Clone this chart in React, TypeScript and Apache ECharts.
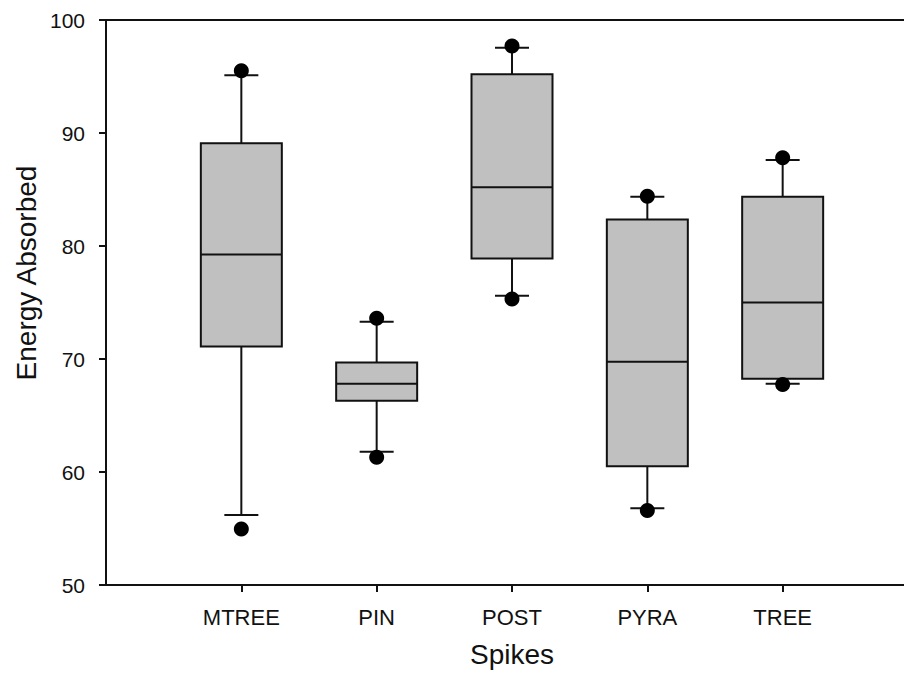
import React, { useEffect, useRef } from "react";
import * as echarts from "echarts";

const categories = ["MTREE", "PIN", "POST", "PYRA", "TREE"];
const whiskerLow = [56.2, 61.8, 75.6, 56.8, 67.8];
const q1 = [71.1, 66.3, 78.9, 60.5, 68.25];
const median = [79.25, 67.8, 85.2, 69.75, 75.0];
const q3 = [89.1, 69.7, 95.2, 82.35, 84.35];
const whiskerHigh = [95.1, 73.3, 97.55, 84.35, 87.6];
const outlierLow = [54.95, 61.3, 75.3, 56.6, 67.75];
const outlierHigh = [95.5, 73.6, 97.7, 84.4, 87.8];

const axisCats = ["", ...categories, ""];
const xTitle = "Spikes";
const yTitle = "Energy Absorbed";

export default function App() {
  const ref = useRef<HTMLDivElement>(null);
  useEffect(() => {
    if (!ref.current) return;
    const chart = echarts.init(ref.current, undefined, { renderer: "svg" });
    const data = categories.map((c, i) => [
      i + 1,
      whiskerLow[i],
      q1[i],
      median[i],
      q3[i],
      whiskerHigh[i],
      outlierLow[i],
      outlierHigh[i],
    ]);
    const font = "'Liberation Sans', Arial, sans-serif";
    chart.setOption({
      animation: false,
      grid: {
        left: 106,
        top: 20,
        bottom: 85,
        right: 12,
        show: true,
        borderColor: "#111",
        borderWidth: 2,
        backgroundColor: "transparent",
      },
      graphic: [
        {
          type: "text",
          x: 26,
          y: 273,
          rotation: Math.PI / 2,
          style: {
            text: yTitle,
            fontFamily: font,
            fontSize: 28,
            fill: "#111",
            align: "center",
            verticalAlign: "middle",
          },
        },
      ],
      xAxis: {
        type: "category",
        data: axisCats,
        boundaryGap: false,
        name: xTitle,
        nameLocation: "middle",
        nameGap: 55,
        nameTextStyle: { fontFamily: font, fontSize: 28, color: "#111" },
        axisLine: { lineStyle: { color: "#111", width: 2 } },
        axisTick: {
          length: 7,
          interval: (idx: number) => idx > 0 && idx < 6,
          lineStyle: { color: "#111", width: 2 },
        },
        axisLabel: {
          interval: 0,
          margin: 21,
          fontFamily: font,
          fontSize: 22,
          color: "#111",
        },
        splitLine: { show: false },
      },
      yAxis: {
        type: "value",
        min: 50,
        max: 100,
        interval: 10,
        axisLine: { show: true, lineStyle: { color: "#111", width: 2 } },
        axisTick: { show: true, length: 7, lineStyle: { color: "#111", width: 2 } },
        axisLabel: { margin: 21, fontFamily: font, fontSize: 21, color: "#111" },
        splitLine: { show: false },
      },
      series: [
        {
          type: "custom",
          data,
          clip: false,
          renderItem: (params: any, api: any) => {
            const x = api.value(0);
            const wl = api.coord([x, api.value(1)]);
            const b1 = api.coord([x, api.value(2)]);
            const md = api.coord([x, api.value(3)]);
            const b3 = api.coord([x, api.value(4)]);
            const wh = api.coord([x, api.value(5)]);
            const ol = api.coord([x, api.value(6)]);
            const oh = api.coord([x, api.value(7)]);
            const cx = wl[0];
            const hw = 40.5;
            const cw = 17;
            const ls = { stroke: "#111", lineWidth: 2 };
            return {
              type: "group",
              children: [
                { type: "line", shape: { x1: cx, y1: b3[1], x2: cx, y2: wh[1] }, style: ls },
                { type: "line", shape: { x1: cx, y1: b1[1], x2: cx, y2: wl[1] }, style: ls },
                { type: "line", shape: { x1: cx - cw, y1: wh[1], x2: cx + cw, y2: wh[1] }, style: ls },
                { type: "line", shape: { x1: cx - cw, y1: wl[1], x2: cx + cw, y2: wl[1] }, style: ls },
                {
                  type: "rect",
                  shape: { x: cx - hw, y: b3[1], width: hw * 2, height: b1[1] - b3[1] },
                  style: { fill: "#c0c0c0", stroke: "#111", lineWidth: 2 },
                },
                { type: "line", shape: { x1: cx - hw, y1: md[1], x2: cx + hw, y2: md[1] }, style: ls },
                { type: "circle", shape: { cx, cy: ol[1], r: 7.5 }, style: { fill: "#000" } },
                { type: "circle", shape: { cx, cy: oh[1], r: 7.5 }, style: { fill: "#000" } },
              ],
            };
          },
        },
      ],
    });
    return () => chart.dispose();
  }, []);
  return (
    <div
      style={{
        position: "fixed",
        left: 0,
        top: 0,
        width: 904,
        height: 673,
        overflow: "hidden",
        background: "#fff",
      }}
    >
      <div ref={ref} style={{ width: 930, height: 673 }} />
    </div>
  );
}
